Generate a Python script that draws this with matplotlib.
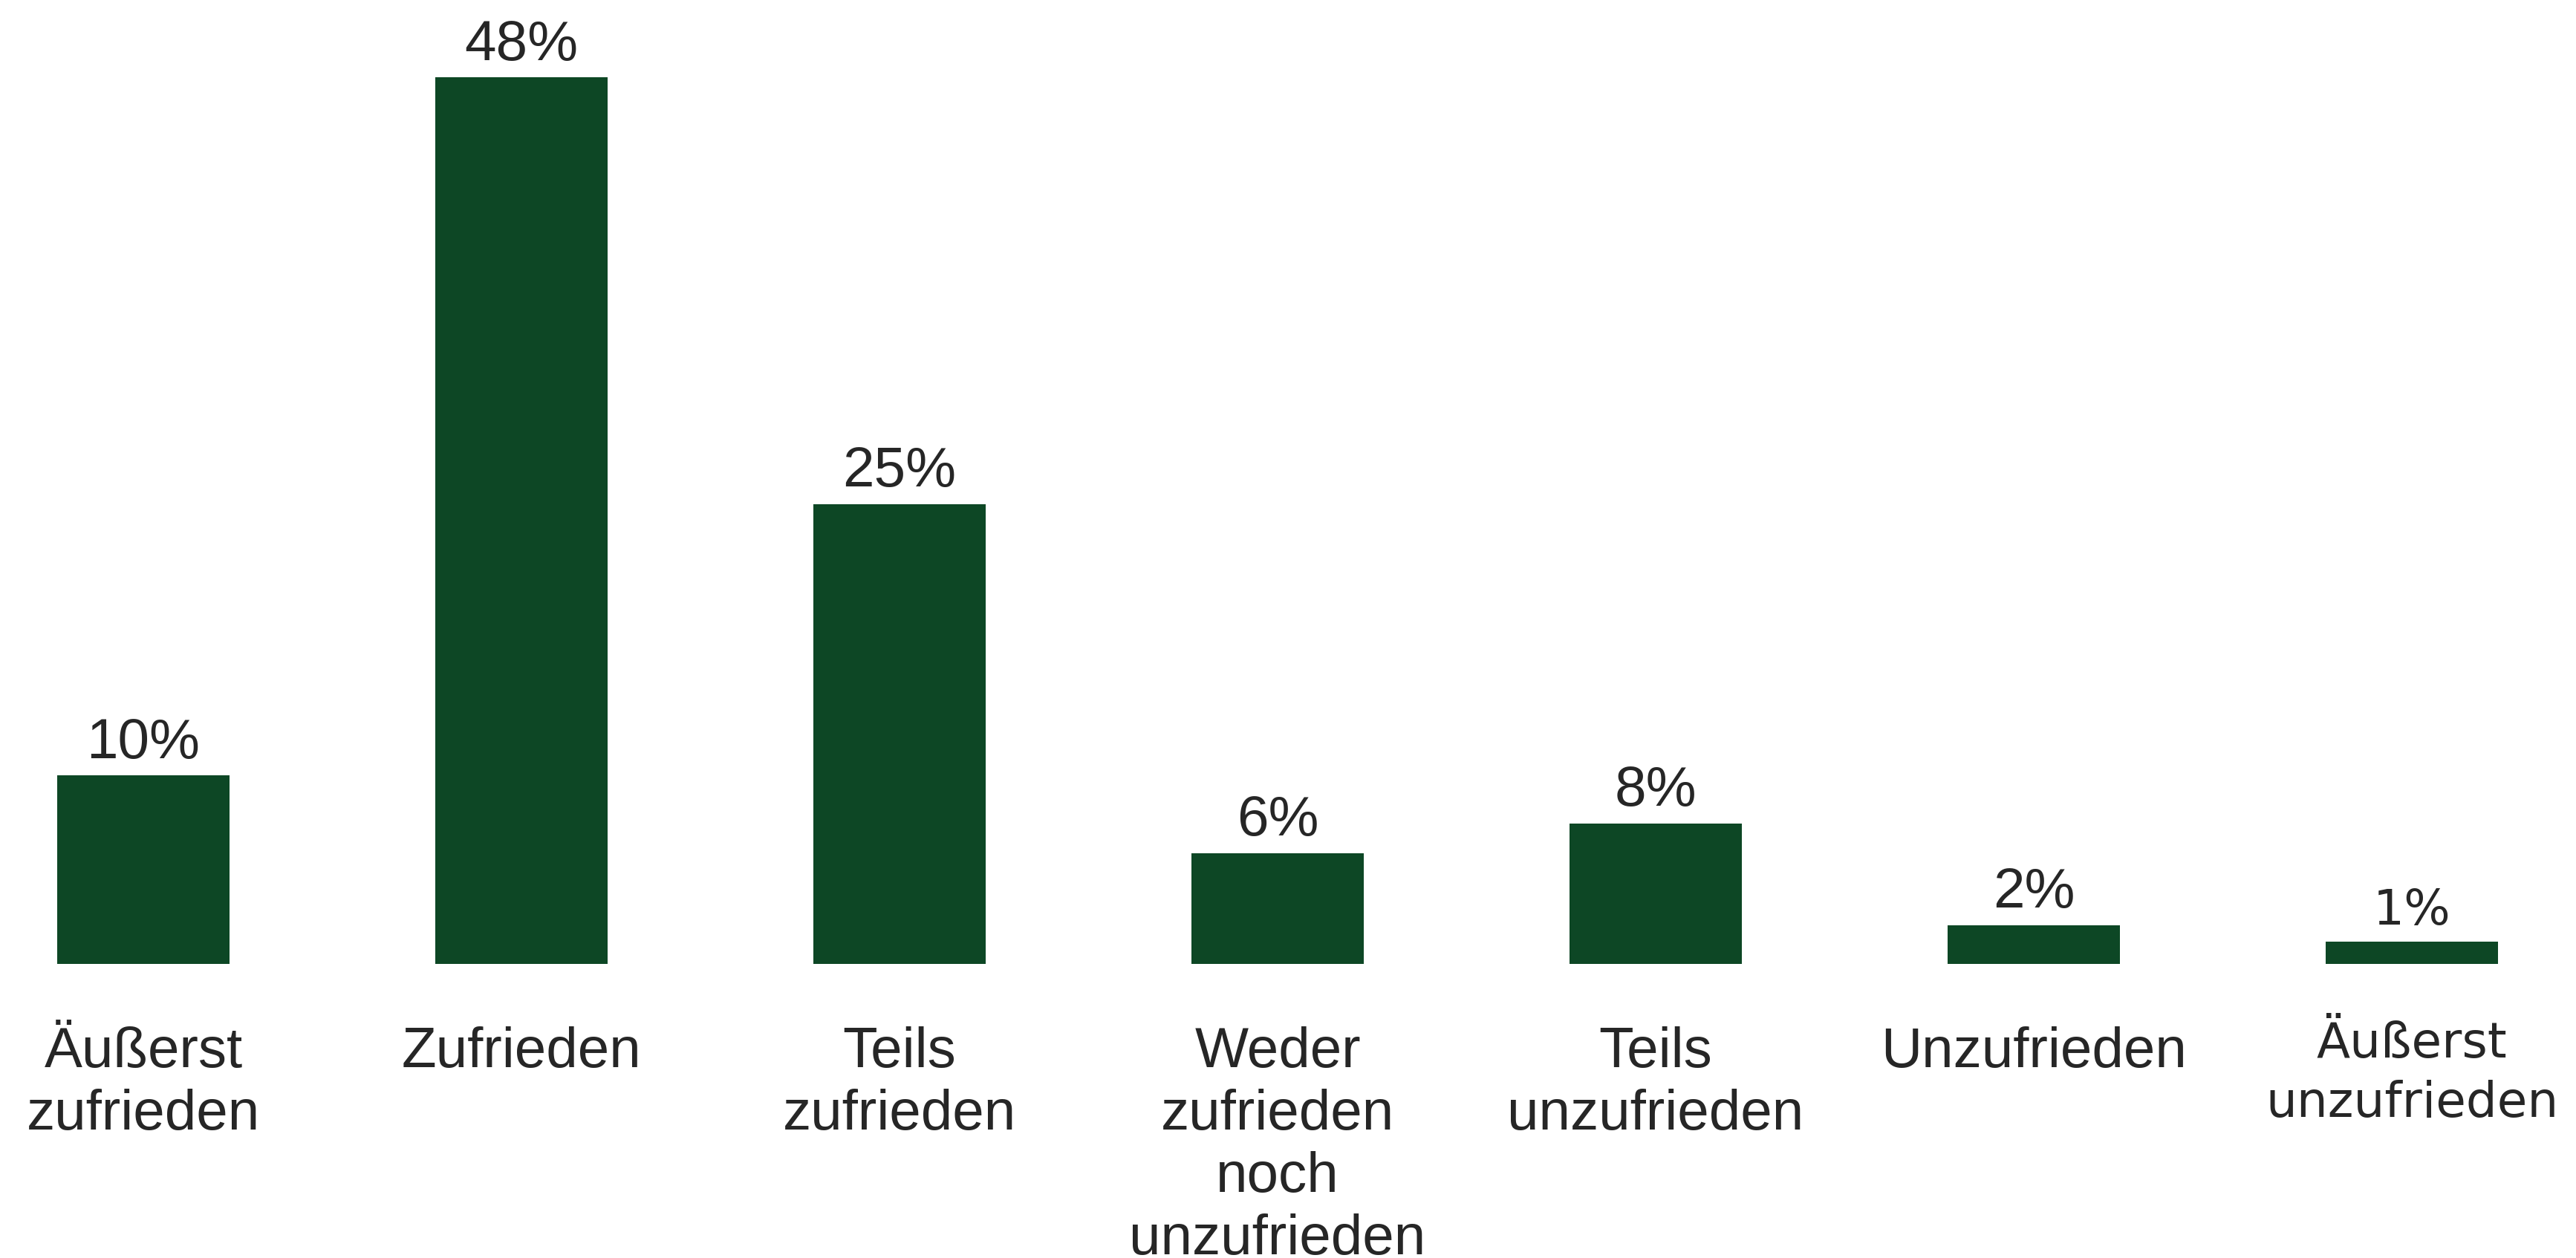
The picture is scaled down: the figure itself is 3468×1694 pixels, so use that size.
import matplotlib
matplotlib.use("Agg")
import matplotlib.pyplot as plt
import matplotlib.transforms as mtransforms

categories = ["Äußerst\nzufrieden", "Zufrieden", "Teils\nzufrieden",
              "Weder\nzufrieden\nnoch\nunzufrieden", "Teils\nunzufrieden",
              "Unzufrieden", "Äußerst\nunzufrieden"]
values = [10.2, 48.0, 24.9, 6.0, 7.6, 2.1, 1.2]
value_labels = [f"{round(v)}%" for v in values]

W, H = 3468, 1694
DPI = 100
fig = plt.figure(figsize=(W / DPI, H / DPI), dpi=DPI)
fig.patch.set_facecolor("white")

base_px = 1298          # baseline from top
spacing = 509.0         # px between bar centers
first_center = 193.0
px_per_unit = 24.87

ax = fig.add_axes([0, 1 - base_px / H, 1, base_px / H])
ax.set_xlim(-first_center / spacing, (W - first_center) / spacing)
ax.set_ylim(0, base_px / px_per_unit)
ax.axis("off")

bar_color = "#0d4725"
text_color = "#262626"
x = list(range(len(values)))
ax.bar(x, values, width=232 / spacing, color=bar_color)

blend = mtransforms.blended_transform_factory(ax.transData, fig.transFigure)
for i, (v, lab, cat) in enumerate(zip(values, value_labels, categories)):
    last = i == len(values) - 1
    fam = ["DejaVu Sans"] if last else ["Liberation Sans", "DejaVu Sans"]
    fs = 47.5 if last else 55
    ax.annotate(lab, (i, v), xytext=(0, 17), textcoords="offset points",
                ha="center", va="baseline", fontsize=fs, family=fam,
                color=text_color)
    base_y = 1424 if last else 1437
    step = 80 if last else 84
    for k, line in enumerate(cat.split("\n")):
        ax.text(i, 1 - (base_y + k * step) / H, line, transform=blend,
                ha="center", va="baseline", fontsize=fs, family=fam,
                color=text_color)

fig.savefig("out.png", dpi=DPI, facecolor="white")
